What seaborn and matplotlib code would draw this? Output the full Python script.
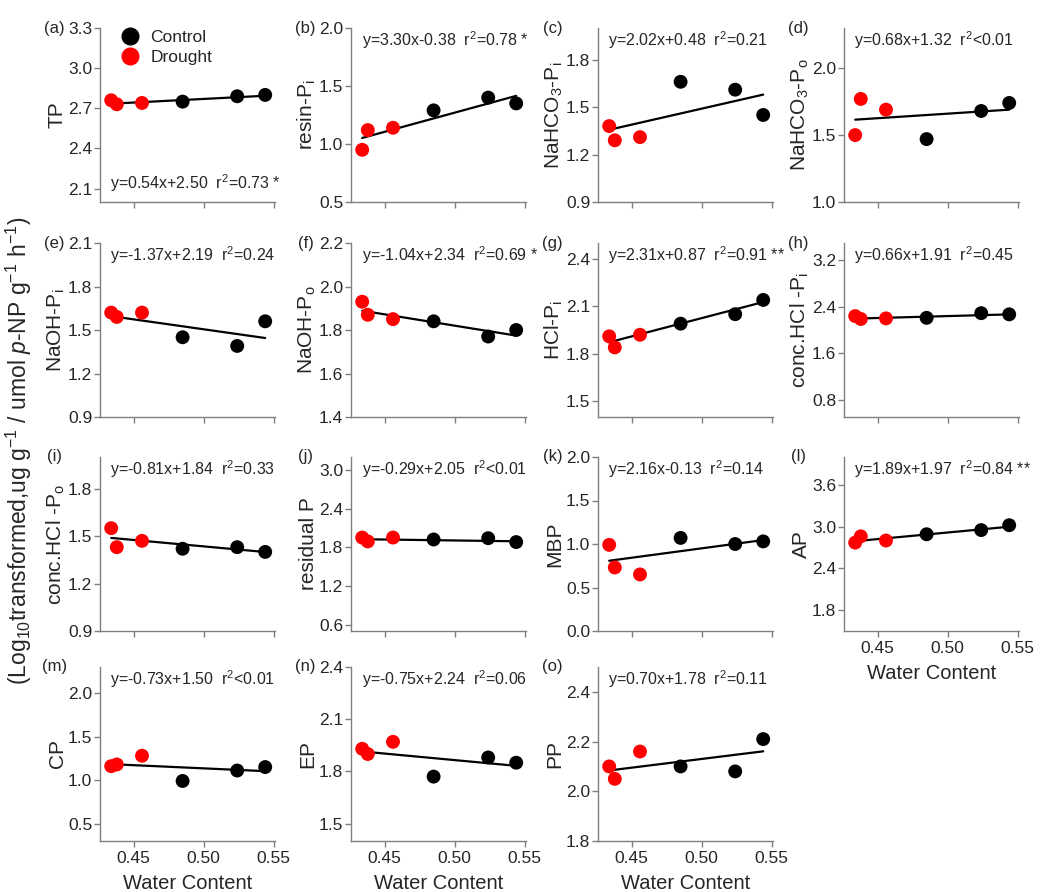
import matplotlib
matplotlib.use("Agg")
import matplotlib.pyplot as plt
import seaborn as sns
import pandas as pd
import numpy as np

# ---------------- data ----------------
water = [0.434, 0.438, 0.456, 0.485, 0.524, 0.544]
treatment = ["Drought", "Drought", "Drought", "Control", "Control", "Control"]

panel_tags = ["(a)", "(b)", "(c)", "(d)", "(e)", "(f)", "(g)", "(h)",
              "(i)", "(j)", "(k)", "(l)", "(m)", "(n)", "(o)"]
ylabels = ["TP", "resin-P$_\\mathregular{i}$", "NaHCO$_\\mathregular{3}$-P$_\\mathregular{i}$",
           "NaHCO$_\\mathregular{3}$-P$_\\mathregular{o}$", "NaOH-P$_\\mathregular{i}$",
           "NaOH-P$_\\mathregular{o}$", "HCl-P$_\\mathregular{i}$", "conc.HCl -P$_\\mathregular{i}$",
           "conc.HCl -P$_\\mathregular{o}$", "residual P", "MBP", "AP", "CP", "EP", "PP"]

TP = [2.76, 2.73, 2.74, 2.75, 2.79, 2.80]
resin_Pi = [0.95, 1.12, 1.14, 1.29, 1.40, 1.35]
NaHCO3_Pi = [1.38, 1.29, 1.31, 1.66, 1.61, 1.45]
NaHCO3_Po = [1.50, 1.77, 1.69, 1.47, 1.68, 1.74]
NaOH_Pi = [1.62, 1.59, 1.62, 1.45, 1.39, 1.56]
NaOH_Po = [1.93, 1.87, 1.85, 1.84, 1.77, 1.80]
HCl_Pi = [1.91, 1.84, 1.92, 1.99, 2.05, 2.14]
concHCl_Pi = [2.24, 2.19, 2.20, 2.21, 2.29, 2.27]
concHCl_Po = [1.55, 1.43, 1.47, 1.42, 1.43, 1.40]
residual_P = [1.95, 1.89, 1.95, 1.92, 1.94, 1.88]
MBP = [0.99, 0.73, 0.65, 1.07, 1.00, 1.03]
AP = [2.77, 2.86, 2.80, 2.89, 2.95, 3.02]
CP = [1.16, 1.18, 1.28, 0.99, 1.11, 1.15]
EP = [1.93, 1.90, 1.97, 1.77, 1.88, 1.85]
PP = [2.10, 2.05, 2.16, 2.10, 2.08, 2.21]
series = [TP, resin_Pi, NaHCO3_Pi, NaHCO3_Po, NaOH_Pi, NaOH_Po, HCl_Pi, concHCl_Pi,
          concHCl_Po, residual_P, MBP, AP, CP, EP, PP]

slopes = [0.54, 3.30, 2.02, 0.68, -1.37, -1.04, 2.31, 0.66, -0.81, -0.29, 2.16, 1.89, -0.73, -0.75, 0.70]
intercepts = [2.50, -0.38, 0.48, 1.32, 2.19, 2.34, 0.87, 1.91, 1.84, 2.05, -0.13, 1.97, 1.50, 2.24, 1.78]
r2_text = ["r$^2$=0.73 *", "r$^2$=0.78 *", "r$^2$=0.21", "r$^2$<0.01", "r$^2$=0.24",
           "r$^2$=0.69 *", "r$^2$=0.91 **", "r$^2$=0.45", "r$^2$=0.33", "r$^2$<0.01",
           "r$^2$=0.14", "r$^2$=0.84 **", "r$^2$<0.01", "r$^2$=0.06", "r$^2$=0.11"]

ylims = [(2.0, 3.3), (0.5, 2.0), (0.9, 2.0), (1.0, 2.3), (0.9, 2.1), (1.4, 2.2), (1.4, 2.5),
         (0.5, 3.5), (0.9, 2.0), (0.5, 3.2), (0.0, 2.0), (1.5, 4.0), (0.3, 2.3), (1.4, 2.4), (1.8, 2.5)]
yticks = [[2.1, 2.4, 2.7, 3.0, 3.3], [0.5, 1.0, 1.5, 2.0], [0.9, 1.2, 1.5, 1.8], [1.0, 1.5, 2.0],
          [0.9, 1.2, 1.5, 1.8, 2.1], [1.4, 1.6, 1.8, 2.0, 2.2], [1.5, 1.8, 2.1, 2.4],
          [0.8, 1.6, 2.4, 3.2], [0.9, 1.2, 1.5, 1.8], [0.6, 1.2, 1.8, 2.4, 3.0],
          [0.0, 0.5, 1.0, 1.5, 2.0], [1.8, 2.4, 3.0, 3.6], [0.5, 1.0, 1.5, 2.0],
          [1.5, 1.8, 2.1, 2.4], [1.8, 2.0, 2.2, 2.4]]
xticks = [0.45, 0.50, 0.55]
xlim = (0.426, 0.551)

# ---------------- style ----------------
sns.set_style("ticks")
plt.rcParams["font.family"] = ["Liberation Sans", "DejaVu Sans"]
plt.rcParams["mathtext.fontset"] = "custom"
plt.rcParams["mathtext.rm"] = "Liberation Sans"
plt.rcParams["mathtext.it"] = "Liberation Sans:italic"

W, H = 1053, 892
fig = plt.figure(figsize=(W / 100, H / 100), dpi=100)

col_left = [100, 351, 598, 844]
row_top = [28, 243, 457, 667]
aw, ah = 175, 174

palette = {"Control": "black", "Drought": "#ff0000"}
spine_col = "#7f7f7f"

for i in range(15):
    r, c = divmod(i, 4)
    ax = fig.add_axes([col_left[c] / W, 1 - (row_top[r] + ah) / H, aw / W, ah / H])
    df = pd.DataFrame({"Water": water, "Value": series[i], "Treatment": treatment})
    sns.scatterplot(data=df, x="Water", y="Value", hue="Treatment", palette=palette,
                    hue_order=["Control", "Drought"], s=100, edgecolor="none", ax=ax,
                    legend=(i == 0), zorder=3)
    xs = np.array([min(water), max(water)])
    fit = pd.DataFrame({"Water": xs, "Fit": slopes[i] * xs + intercepts[i]})
    sns.lineplot(data=fit, x="Water", y="Fit", color="black", lw=1.6, ax=ax, zorder=2)

    ax.set_xlim(*xlim)
    ax.set_ylim(*ylims[i])
    ax.set_yticks(yticks[i])
    ax.set_yticklabels([f"{v:.1f}" for v in yticks[i]], fontsize=12.5)
    ax.set_xticks(xticks)
    bottom_panel = i >= 11
    if bottom_panel:
        ax.set_xticklabels([f"{v:.2f}" for v in xticks], fontsize=12.5)
        ax.set_xlabel("Water Content", fontsize=14.5, labelpad=6)
    else:
        ax.set_xticklabels([])
        ax.set_xlabel("")
    ax.set_ylabel(ylabels[i], fontsize=15, labelpad=1)
    for s in ["top", "right"]:
        ax.spines[s].set_visible(False)
    for s in ["left", "bottom"]:
        ax.spines[s].set_color(spine_col)
        ax.spines[s].set_linewidth(1.0)
    ax.tick_params(axis="both", color=spine_col, length=4, width=1.0, pad=1.5)
    ax.tick_params(axis="x", pad=3)

    eq = f"y={slopes[i]:.2f}x{'+' if intercepts[i] >= 0 else '-'}{abs(intercepts[i]):.2f}  {r2_text[i]}"
    if i == 0:
        ax.text(0.06, 0.11, eq, transform=ax.transAxes, fontsize=11.5, va="center", ha="left")
        ax.legend(loc="upper left", frameon=False, fontsize=12.5, handletextpad=0.2,
                  borderaxespad=0.0, labelspacing=0.3, bbox_to_anchor=(0.03, 1.03),
                  markerscale=1.3)
    else:
        ax.text(0.06, 0.93, eq, transform=ax.transAxes, fontsize=11.5, va="center", ha="left",
                clip_on=False)
    ax.text(-0.26, 1.0, panel_tags[i], transform=ax.transAxes, fontsize=12,
            va="center", ha="center")

fig.text(0.018, 0.495,
         "(Log$_\\mathregular{10}$transformed,ug g$^\\mathregular{-1}$ / umol $p$-NP g$^\\mathregular{-1}$ h$^\\mathregular{-1}$)",
         rotation=90, fontsize=16.5, va="center", ha="center")

fig.savefig("out.png", dpi=100)
